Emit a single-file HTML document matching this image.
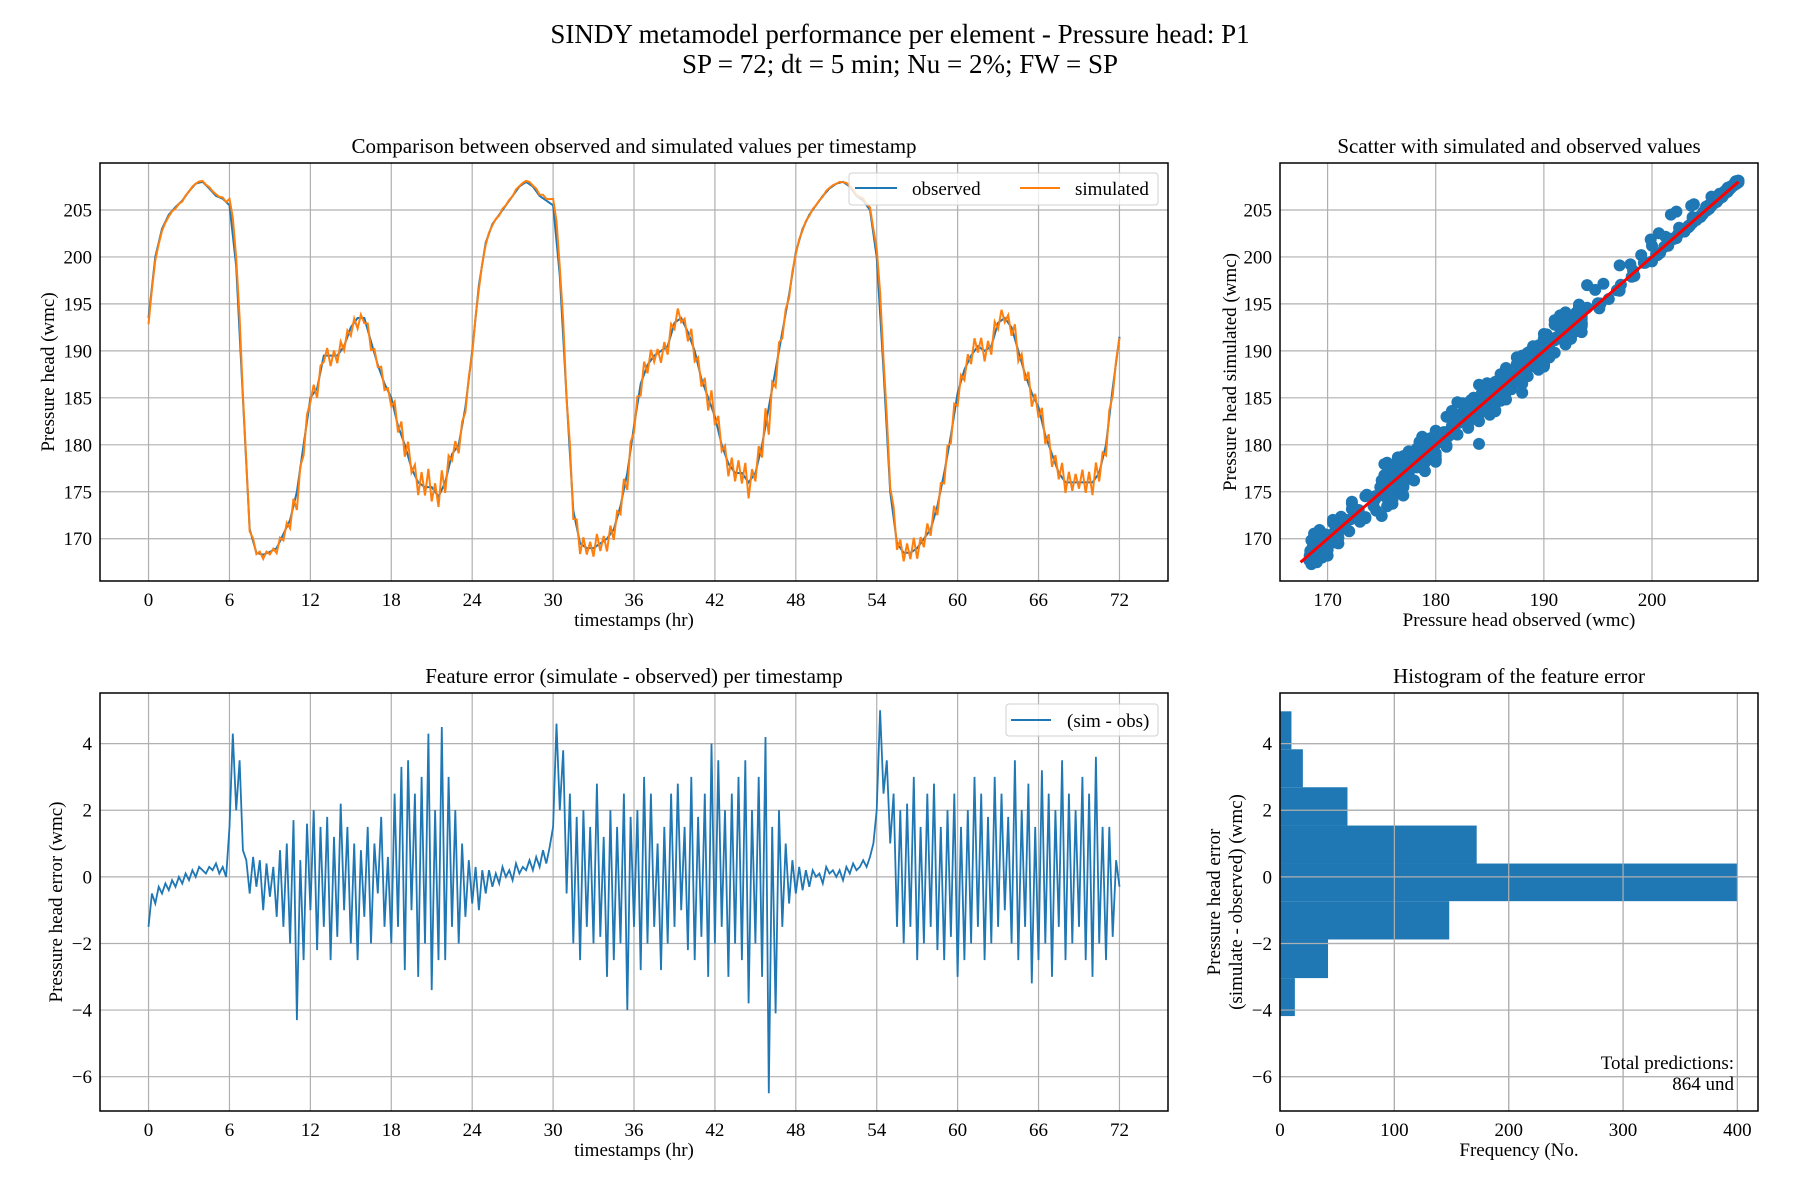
<!DOCTYPE html>
<html><head><meta charset="utf-8">
<style>
html,body{margin:0;padding:0;background:#fff;}
svg{display:block;font-family:"Liberation Serif",serif;}
</style></head>
<body>
<svg id="fig" width="1800" height="1200" viewBox="0 0 1800 1200" xmlns="http://www.w3.org/2000/svg">
<rect width="1800" height="1200" fill="#fff"/>
<text x="900" y="43" font-size="27" text-anchor="middle">SINDY metamodel performance per element - Pressure head: P1</text>
<text x="900" y="73" font-size="27" text-anchor="middle">SP = 72; dt = 5 min; Nu = 2%; FW = SP</text>
<g id="g"></g>
</svg>
<script>
// observed every 0.5 h (0..72)
const observed = [193.5,200,203,204.5,205.3,206,207,207.8,208,207.3,206.5,206.2,205.5,199,185,171,168.5,168.3,168.6,169,170.5,172,175,180,185,186,189.5,189.5,189.5,190.5,192.5,193.5,193.5,191,188.5,186.5,185,182,180,177.5,176,175.5,175.5,174.5,176,179,180,184,190,
197,201.5,203.5,204.5,205.5,206.5,207.5,208,207.5,206.5,206,205.5,198,185,173,169.5,169,169,169.5,170,171,173.5,177,182,186.5,188.5,189.5,190,190.5,193,193.5,192,190,187,185,183,180,178,177,177,176,177,180,184,188,192,196,
200.5,203,204.5,205.5,206.5,207.3,207.8,208,207.5,206.5,206,205,200,188,175,169.5,168.5,168.5,169,170,171,173.5,177,181,185.5,188,189.5,190.5,190,190.5,193,193.5,192.5,190,187.5,185.5,184,181,179,177,176,176,176,176,176,177,180,186,191.5];
// error (sim - obs) every 0.25 h
const errorVals = [-1.5,-0.5,-0.8,-0.3,-0.5,-0.2,-0.4,-0.1,-0.3,0.0,-0.2,0.1,-0.1,0.2,0.0,0.3,0.2,0.1,0.3,0.2,0.4,0.1,0.3,0.0,
1.5,4.3,2.0,3.5,0.8,0.5,-0.5,0.6,-0.3,0.5,-1.0,0.4,-0.6,0.3,-1.2,0.8,-1.5,1.0,-2.0,1.7,-4.3,0.5,-2.5,1.6,
-1.0,2.0,-2.2,1.5,-1.5,1.8,-2.5,1.2,-1.8,2.2,-1.0,1.5,-2.0,1.0,-2.5,0.8,-1.2,1.5,-2.0,1.0,-0.5,1.8,-1.5,0.6,
-2.0,2.5,-1.5,3.3,-2.8,3.5,-1.0,2.5,-3.0,3.0,-2.0,4.3,-3.4,2.0,-2.5,4.5,-2.5,3.0,-1.5,2.0,-2.0,1.0,-1.2,0.5,
-0.8,0.3,-1.0,0.2,-0.5,0.2,-0.3,0.1,-0.2,0.3,0.0,0.2,-0.1,0.4,0.1,0.3,0.2,0.5,0.2,0.6,0.3,0.8,0.4,0.9,
1.5,4.6,2.0,3.8,-0.5,2.5,-2.0,1.8,-2.5,2.0,-1.5,1.5,-2.0,2.8,-1.8,1.2,-3.0,2.0,-2.5,1.5,-2.0,2.5,-4.0,1.8,
-1.5,2.0,-2.8,3.0,-2.0,2.5,-1.5,1.0,-2.8,1.5,-2.0,2.5,-1.5,2.8,-1.0,1.5,-2.2,3.0,-2.5,1.8,-1.8,2.5,-3.0,4.0,
-2.0,3.5,-1.5,2.0,-3.0,2.5,-2.0,3.0,-2.5,3.5,-3.8,2.0,-2.0,3.0,-3.0,4.2,-6.5,1.5,-4.1,2.0,-1.5,1.0,-0.8,0.5,
-0.5,0.3,-0.4,0.2,-0.3,0.2,0.0,0.1,-0.2,0.3,0.1,0.2,0.0,0.2,-0.1,0.3,0.1,0.4,0.2,0.3,0.5,0.3,0.6,1.0,
2.0,5.0,2.5,3.5,1.0,2.5,-1.5,2.0,-2.0,2.2,-1.5,3.0,-2.5,1.5,-2.0,2.5,-1.5,2.8,-2.2,1.5,-2.5,2.0,-1.8,2.5,
-3.0,1.5,-2.5,2.0,-2.0,3.0,-1.5,2.5,-2.5,1.8,-2.0,3.0,-1.5,2.5,-1.0,1.8,-2.0,3.5,-2.5,2.0,-1.5,2.8,-3.2,1.5,
-2.5,3.2,-2.0,2.5,-3.0,2.0,-1.5,3.5,-2.5,2.5,-2.0,2.0,-1.5,3.0,-2.5,2.5,-3.0,3.6,-2.0,1.5,-2.5,1.5,-1.8,0.5,-0.3];
const histEdges = [-4.18,-3.04,-1.88,-0.73,0.40,1.54,2.69,3.83,4.97];
const histCounts = [13,42,148,400,172,59,20,10];
const timeTicks = [0,6,12,18,24,30,36,42,48,54,60,66,72];
const headTicks = [170,175,180,185,190,195,200,205];
const errTicks = [-6,-4,-2,0,2,4];
const freqTicks = [0,100,200,300,400];
const totalPredictions = 864;

const NS="http://www.w3.org/2000/svg";
const G=document.getElementById('g');
function el(tag,attrs,parent,txt){const e=document.createElementNS(NS,tag);for(const k in attrs)e.setAttribute(k,attrs[k]);if(txt!==undefined)e.textContent=txt;(parent||G).appendChild(e);return e;}
function lin(d0,d1,p0,p1){return v=>p0+(v-d0)*(p1-p0)/(d1-d0);}

const BLUE="#1f77b4",ORANGE="#ff7f0e",GRID="#b0b0b0";
const A1={l:100,r:1168,t:163,b:581}, A2={l:1280,r:1758,t:163,b:581}, A3={l:100,r:1168,t:693,b:1111}, A4={l:1280,r:1758,t:693,b:1111};
const tx=lin(-3.6,75.6,A1.l,A1.r);
const hy=lin(165.5,210,A1.b,A1.t);
const sx=lin(165.6,209.8,A2.l,A2.r);
const ey=lin(-7.03,5.52,A3.b,A3.t);
const fx=lin(0,418,A4.l,A4.r);
const TF=19;

function gridX(A,ticks,f,labels,name){
  for(const t of ticks){const x=f(t);
    const g=el('line',{x1:x,x2:x,y1:A.t,y2:A.b,stroke:GRID,'stroke-width':1.2});
    
    
    const tl=el('text',{x:x,y:A.b+25,'font-size':TF,'text-anchor':'middle'},G,String(t));
    
    
  }
}
function gridY(A,ticks,f,name){
  for(const t of ticks){const y=f(t);
    const g=el('line',{x1:A.l,x2:A.r,y1:y,y2:y,stroke:GRID,'stroke-width':1.2});
    
    
    const tl=el('text',{x:A.l-8,y:y+6.5,'font-size':TF,'text-anchor':'end'},G,t<0?'\u2212'+Math.abs(t):String(t));
    
    
  }
}
function frame(A,name){const r=el('rect',{x:A.l,y:A.t,width:A.r-A.l,height:A.b-A.t,fill:'none',stroke:'#000','stroke-width':1.5});
  
  }
function clip(A,id){const d=el('clipPath',{id:id});el('rect',{x:A.l,y:A.t,width:A.r-A.l,height:A.b-A.t},d);}
function label(x,y,txt,name,rot,size){const t=el('text',{x:x,y:y,'font-size':size||TF,'text-anchor':'middle',transform:rot?`rotate(-90 ${x} ${y})`:''},G,txt);
  
  }

function obsAt(t){const i=t*2, i0=Math.floor(i), i1=Math.min(i0+1,observed.length-1);const f=i-i0;return observed[i0]*(1-f)+observed[i1]*f;}

clip(A1,'c1');clip(A2,'c2');clip(A3,'c3');clip(A4,'c4');
gridX(A1,timeTicks,tx,null,'timeseries');gridY(A1,headTicks,hy,'timeseries');
let p='';observed.forEach((v,i)=>{p+=(i?'L':'M')+tx(i*0.5).toFixed(1)+' '+hy(v).toFixed(1);});
const lo=el('path',{d:p,fill:'none',stroke:BLUE,'stroke-width':2,'clip-path':'url(#c1)'});


p='';errorVals.forEach((e,i)=>{const t=i*0.25;p+=(i?'L':'M')+tx(t).toFixed(1)+' '+hy(obsAt(t)+e*0.45).toFixed(1);});
const ls=el('path',{d:p,fill:'none',stroke:ORANGE,'stroke-width':2,'clip-path':'url(#c1)'});


frame(A1,'timeseries');
label(634,153,'Comparison between observed and simulated values per timestamp','timeseries-title',false,21);
label(634,626,'timestamps (hr)','timeseries-x-axis-title');
label(54,372,'Pressure head (wmc)','timeseries-y-axis-title',true);
const lg=el('g',{});
el('rect',{x:849,y:173,width:309,height:32,rx:3,fill:'rgba(255,255,255,0.8)',stroke:'#d0d0d0'},lg);
el('line',{x1:855,x2:897,y1:188,y2:188,stroke:BLUE,'stroke-width':2},lg);
el('text',{x:912,y:195,'font-size':19},lg,'observed');
el('line',{x1:1020,x2:1060,y1:188,y2:188,stroke:ORANGE,'stroke-width':2},lg);
el('text',{x:1075,y:195,'font-size':19},lg,'simulated');

gridX(A2,[170,180,190,200],sx,null,'scatter');gridY(A2,headTicks,hy,'scatter');
const sg=el('g',{'clip-path':'url(#c2)'});
errorVals.forEach((e,i)=>{const o=obsAt(i*0.25);el('circle',{cx:sx(o).toFixed(1),cy:hy(o+e*0.6).toFixed(1),r:6,fill:BLUE},sg);
  if(i>0){const o2=obsAt(i*0.25-0.125);el('circle',{cx:sx(o2).toFixed(1),cy:hy(o2+(e+errorVals[i-1])*0.3).toFixed(1),r:6,fill:BLUE},sg);}});
const mn=Math.min(...observed)-0.8,mx=Math.max(...observed);
const rl=el('line',{x1:sx(mn),y1:hy(mn),x2:sx(mx),y2:hy(mx),stroke:'red','stroke-width':3});

frame(A2,'scatter');
label(1519,153,'Scatter with simulated and observed values','scatter-title',false,21);
label(1519,626,'Pressure head observed (wmc)','scatter-x-axis-title');
label(1236,372,'Pressure head simulated (wmc)','scatter-y-axis-title',true);

gridX(A3,timeTicks,tx,null,'error');gridY(A3,errTicks,ey,'error');
p='';errorVals.forEach((e,i)=>{p+=(i?'L':'M')+tx(i*0.25).toFixed(1)+' '+ey(e).toFixed(1);});
const le=el('path',{d:p,fill:'none',stroke:BLUE,'stroke-width':1.8,'clip-path':'url(#c3)'});

frame(A3,'error');
label(634,683,'Feature error (simulate - observed) per timestamp','error-title',false,21);
label(634,1156,'timestamps (hr)','error-x-axis-title');
label(62,902,'Pressure head error (wmc)','error-y-axis-title',true);
const lg2=el('g',{});
el('rect',{x:1006,y:704,width:152,height:32,rx:3,fill:'rgba(255,255,255,0.8)',stroke:'#d0d0d0'},lg2);
el('line',{x1:1011,x2:1051,y1:720,y2:720,stroke:BLUE,'stroke-width':2},lg2);
el('text',{x:1067,y:727,'font-size':19},lg2,'(sim - obs)');

gridX(A4,freqTicks,fx,null,'histogram');gridY(A4,errTicks,ey,'histogram');
histCounts.forEach((c,i)=>{const y0=ey(histEdges[i+1]),y1=ey(histEdges[i]);
  const b=el('rect',{x:fx(0),y:y0,width:fx(c)-fx(0),height:y1-y0,fill:BLUE});
  
  });
for(const t of freqTicks){const l=el('line',{x1:fx(t),x2:fx(t),y1:A4.t,y2:A4.b,stroke:GRID,'stroke-width':1.2});}
for(const t of errTicks){const l=el('line',{x1:A4.l,x2:A4.r,y1:ey(t),y2:ey(t),stroke:GRID,'stroke-width':1.2});}
frame(A4,'histogram');
label(1519,683,'Histogram of the feature error','histogram-title',false,21);
label(1519,1156,'Frequency (No.','histogram-x-axis-title');
label(1220,902,'Pressure head error','histogram-y-axis-title',true);
label(1242,902,'(simulate - observed) (wmc)','histogram-y-axis-title-2',true);
const t1=el('text',{x:1734,y:1069,'font-size':19,'text-anchor':'end'},G,'Total predictions:');

const t2=el('text',{x:1734,y:1090,'font-size':19,'text-anchor':'end'},G,totalPredictions+' und');

</script>
</body></html>
